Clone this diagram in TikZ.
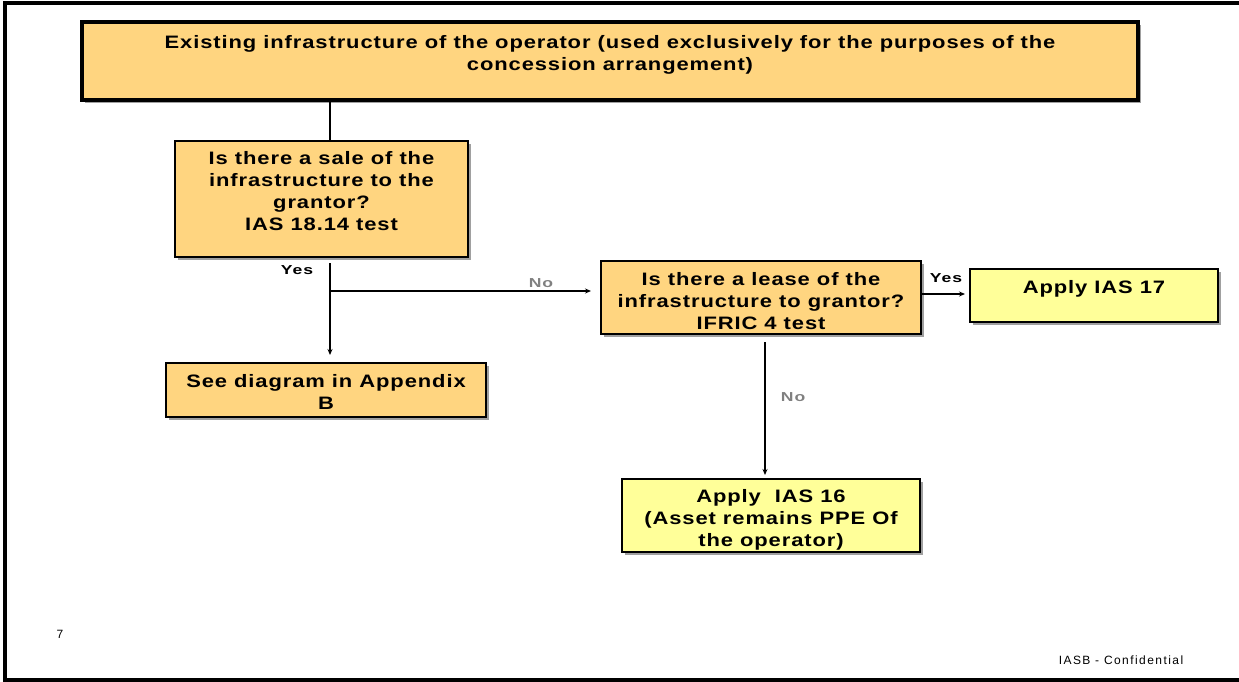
\documentclass[tikz,border=0pt]{standalone}
\usepackage{fontspec}
\setmainfont{Liberation Sans}
\newfontfamily\boxfont[FakeStretch=1.22, LetterSpace=5]{Liberation Sans}
\newfontfamily\labfont[FakeStretch=1.35, LetterSpace=8]{Liberation Sans}
\newfontfamily\footfont[LetterSpace=12]{Liberation Sans}
\usetikzlibrary{arrows.meta}
\definecolor{boxorange}{HTML}{FFD580}
\definecolor{boxyellow}{HTML}{FFFF99}
\definecolor{shadowgray}{HTML}{A0A0A0}
\definecolor{nogray}{HTML}{808080}
\tikzset{
  shadowed/.style={preaction={fill=shadowgray, transform canvas={xshift=3pt, yshift=-3pt}}},
  obox/.style={draw=black, line width=2pt, fill=boxorange, shadowed, inner sep=0pt},
  ybox/.style={draw=black, line width=2pt, fill=boxyellow, shadowed, inner sep=0pt},
  btext/.style={font=\boxfont\fontsize{18}{22}\selectfont\bfseries, align=center, inner sep=0pt, anchor=north},
  conn/.style={line width=1.3pt},
  arr/.style={line width=1.3pt, -{Stealth[length=6pt,width=5pt]}},
  yeslabel/.style={font=\labfont\fontsize{13}{15}\selectfont\bfseries, inner sep=0pt},
  nolabel/.style={font=\labfont\fontsize{13}{15}\selectfont\bfseries, text=nogray, inner sep=0pt},
  foot/.style={font=\footfont\fontsize{12}{14}\selectfont, inner sep=0pt}
}
\begin{document}
\begin{tikzpicture}[x=1pt, y=-1pt]
\useasboundingbox (0,0) rectangle (1239,682);
% page frame
\draw[line width=4pt] (1239,3) -- (5,3) -- (5,680) -- (1239,680);

% boxes
\node[obox, line width=4pt, minimum width=1056pt, minimum height=78pt] (top) at (610,61) {};
\node[btext] (toptext) at (610,35) {Existing infrastructure of the operator (used exclusively for the purposes of the\\concession arrangement)};

\node[obox, minimum width=293pt, minimum height=116pt] (sale) at (321.5,199) {};
\node[btext] (saletext) at (321.5,151) {Is there a sale of the\\infrastructure to the\\grantor?\\IAS 18.14 test};

\node[obox, minimum width=320pt, minimum height=54pt] (appb) at (326,390) {};
\node[btext] (appbtext) at (326,374) {See diagram in Appendix\\B};

\node[obox, minimum width=320pt, minimum height=73pt] (lease) at (761,297.5) {};
\node[btext] (leasetext) at (761,272) {Is there a lease of the\\infrastructure to grantor?\\IFRIC 4 test};

\node[ybox, minimum width=248pt, minimum height=53pt] (ias17) at (1094,295.5) {};
\node[btext] (ias17text) at (1094,280) {Apply IAS 17};

\node[ybox, minimum width=298pt, minimum height=73pt] (ias16) at (771,515.5) {};
\node[btext] (ias16text) at (771,489) {Apply \ IAS 16\\(Asset remains PPE Of\\the operator)};

% connectors
\coordinate (branch) at (330,291);
\draw[conn] (top.south -| branch) -- (sale.north -| branch);
\draw[arr] ([yshift=-5pt]sale.south -| branch) -- ([yshift=7pt]appb.north -| branch);
\draw[arr, shorten >=9pt] (branch) -- (branch -| lease.west);
\draw[arr, shorten >=4pt] (lease.east |- 0,294) -- (ias17.west |- 0,294);
\draw[arr, shorten >=3pt] ([yshift=-7pt]lease.south -| 765,0) -- (ias16.north -| 765,0);

% labels
\node[yeslabel] (yes1) at (297,270) {Yes};
\node[nolabel] (no1) at (541,283) {No};
\node[yeslabel] (yes2) at (946,278) {Yes};
\node[nolabel] (no2) at (793,397) {No};

% footer
\node[foot] (pagenum) at (60,634) {7};
\node[foot] (conf) at (1121,660) {IASB - Confidential};
\end{tikzpicture}
\end{document}
